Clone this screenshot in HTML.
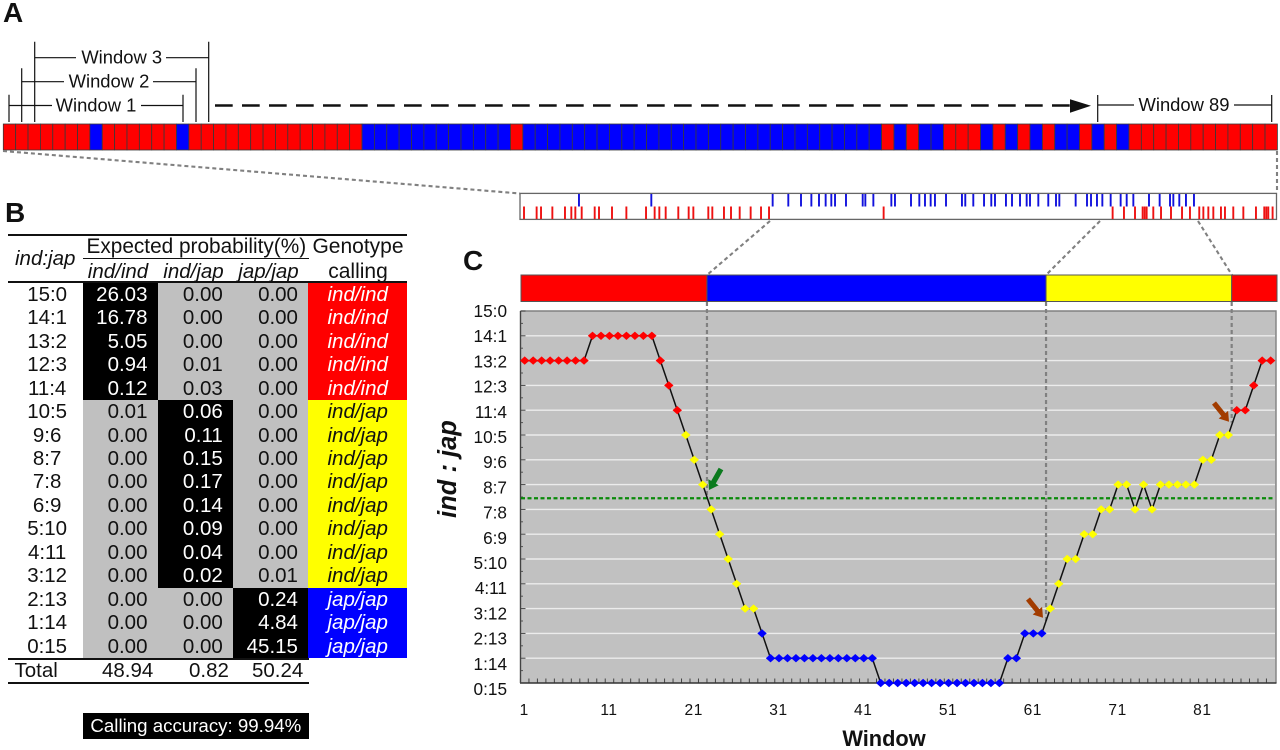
<!DOCTYPE html>
<html lang="en">
<head>
<meta charset="utf-8">
<title>Genotype calling by sliding windows</title>
<style>
html,body{margin:0;padding:0;background:#fff;}
body{width:1280px;height:750px;position:relative;overflow:hidden;font-family:"Liberation Sans",Arial,sans-serif;color:#111;}
svg{position:absolute;left:0;top:0;}
svg text{font-family:"Liberation Sans",Arial,sans-serif;fill:#111;}
.rule{position:absolute;background:#111;height:2px;}
.t{position:absolute;font-size:20.5px;line-height:24px;white-space:nowrap;}
.c{text-align:center;}
.i{font-style:italic;}
#prob-grid{position:absolute;left:8px;top:282.7px;display:grid;grid-template-columns:75.3px 74.7px 75.3px 75.2px 98.5px;grid-auto-rows:23.47px;font-size:20.5px;line-height:23.47px;}
#prob-grid div{white-space:nowrap;}
.r{text-align:center;padding-left:3px;background:#fff;}
.g,.k{text-align:right;padding-right:10.5px;}
.g{background:#c0c0c0;color:#111;}
.k{background:#000;color:#fff;}
.cr,.cy,.cb{text-align:center;font-style:italic;}
.cr{background:#f00;color:#fff;}
.cy{background:#ff0;color:#111;}
.cb{background:#00f;color:#fff;}
</style>
</head>
<body>

<!-- Panel B table -->
<div class="rule" style="left:8px;top:233.5px;width:399px;"></div>
<div class="rule" style="left:83px;top:257.5px;width:226px;height:1.6px;"></div>
<div class="rule" style="left:8px;top:280.8px;width:399px;"></div>
<div class="t" style="left:15px;top:247px;font-style:italic;">ind:jap</div>
<div class="t" style="left:86.5px;top:234.5px;font-size:20.8px;">Expected probability(%)</div>
<div class="t c i" style="left:83px;width:70px;top:260px;">ind/ind</div>
<div class="t c i" style="left:158px;width:71px;top:260px;">ind/jap</div>
<div class="t c i" style="left:233px;width:71px;top:260px;">jap/jap</div>
<div class="t c" style="left:309px;width:98px;top:234.5px;font-size:21px;">Genotype</div>
<div class="t c" style="left:309px;width:98px;top:259.5px;font-size:21px;">calling</div>

<div id="prob-grid">
<div class="r">15:0</div><div class="k">26.03</div><div class="g">0.00</div><div class="g">0.00</div><div class="cr">ind/ind</div>
<div class="r">14:1</div><div class="k">16.78</div><div class="g">0.00</div><div class="g">0.00</div><div class="cr">ind/ind</div>
<div class="r">13:2</div><div class="k">5.05</div><div class="g">0.00</div><div class="g">0.00</div><div class="cr">ind/ind</div>
<div class="r">12:3</div><div class="k">0.94</div><div class="g">0.01</div><div class="g">0.00</div><div class="cr">ind/ind</div>
<div class="r">11:4</div><div class="k">0.12</div><div class="g">0.03</div><div class="g">0.00</div><div class="cr">ind/ind</div>
<div class="r">10:5</div><div class="g">0.01</div><div class="k">0.06</div><div class="g">0.00</div><div class="cy">ind/jap</div>
<div class="r">9:6</div><div class="g">0.00</div><div class="k">0.11</div><div class="g">0.00</div><div class="cy">ind/jap</div>
<div class="r">8:7</div><div class="g">0.00</div><div class="k">0.15</div><div class="g">0.00</div><div class="cy">ind/jap</div>
<div class="r">7:8</div><div class="g">0.00</div><div class="k">0.17</div><div class="g">0.00</div><div class="cy">ind/jap</div>
<div class="r">6:9</div><div class="g">0.00</div><div class="k">0.14</div><div class="g">0.00</div><div class="cy">ind/jap</div>
<div class="r">5:10</div><div class="g">0.00</div><div class="k">0.09</div><div class="g">0.00</div><div class="cy">ind/jap</div>
<div class="r">4:11</div><div class="g">0.00</div><div class="k">0.04</div><div class="g">0.00</div><div class="cy">ind/jap</div>
<div class="r">3:12</div><div class="g">0.00</div><div class="k">0.02</div><div class="g">0.01</div><div class="cy">ind/jap</div>
<div class="r">2:13</div><div class="g">0.00</div><div class="g">0.00</div><div class="k">0.24</div><div class="cb">jap/jap</div>
<div class="r">1:14</div><div class="g">0.00</div><div class="g">0.00</div><div class="k">4.84</div><div class="cb">jap/jap</div>
<div class="r">0:15</div><div class="g">0.00</div><div class="g">0.00</div><div class="k">45.15</div><div class="cb">jap/jap</div>
</div>

<div class="rule" style="left:8px;top:657.5px;width:301px;"></div>
<div class="rule" style="left:8px;top:681.5px;width:301px;"></div>
<div class="t" style="left:14.5px;top:659px;">Total</div>
<div class="t" style="left:102px;top:659px;">48.94</div>
<div class="t" style="left:189px;top:659px;">0.82</div>
<div class="t" style="left:252px;top:659px;">50.24</div>
<div style="position:absolute;left:83px;top:712.7px;width:225.7px;height:26px;background:#000;color:#fff;font-size:18.7px;line-height:26px;text-align:center;">Calling accuracy: 99.94%</div>

<svg id="fig" width="1280" height="750" viewBox="0 0 1280 750">
  <text x="3" y="22" font-size="28" font-weight="bold">A</text>
  <text x="5" y="222" font-size="28" font-weight="bold">B</text>
  <text x="463" y="270" font-size="28" font-weight="bold">C</text>

  <!-- window brackets -->
  <g stroke="#111" stroke-width="1.2" fill="none">
    <path d="M9 94.7V122M183 94.7V122M9 105.5H52M141 105.5H183"/>
    <path d="M21.7 68.3V122M196 68.3V122M21.7 81.7H64M153 81.7H196"/>
    <path d="M34.7 41.7V122M208.7 41.7V122M34.7 57.7H76M166 57.7H208.7"/>
    <path d="M1097.7 95V122M1271.7 95V122M1097.7 105H1134M1234 105H1271.7"/>
  </g>
  <text x="96" y="111.5" font-size="18.4" text-anchor="middle">Window 1</text>
  <text x="109" y="87.5" font-size="18.4" text-anchor="middle">Window 2</text>
  <text x="121.7" y="63.5" font-size="18.4" text-anchor="middle">Window 3</text>
  <text x="1184" y="111" font-size="18.4" text-anchor="middle">Window 89</text>
  <path d="M215 105.5H1070" stroke="#111" stroke-width="2.6" stroke-dasharray="17.7 9.3" fill="none"/>
  <polygon points="1070,99.3 1091,105.8 1070,112.7" fill="#111"/>

  <g id="bar-a"></g>

  <g stroke="#808080" stroke-width="2.1" stroke-dasharray="4 3" fill="none">
    <path d="M3 151L520 193.5"/>
    <path d="M1277 151V193"/>
    <path d="M770 221L707 275"/>
    <path d="M1100 221L1046 275"/>
    <path d="M1198 221L1232 275"/>
  </g>

  <rect x="520" y="193.4" width="756.5" height="26" fill="#fff" stroke="#666" stroke-width="1.3"/>
  <g id="snp-ticks"></g>

  <rect x="520.5" y="311" width="755.5" height="372" fill="#c1c1c1"/>
  <g id="grid"></g>
  <path d="M520.5 311H1276V683" stroke="#808080" stroke-width="1.4" fill="none"/>
  <g id="axes"></g>
  <g id="call-bar"></g>
  <g id="guides"></g>
  <g id="threshold"></g>
  <g id="series"></g>

  <polygon points="723.3,470.3 715.8,483.5 718.7,485.2 709,490 708.3,479.2 711.2,480.9 718.7,467.7" fill="#0b7a1e"/>
  <polygon points="1216,401.4 1225.4,413.1 1228.1,410.9 1229,421.7 1218.7,418.5 1221.4,416.3 1212,404.6" fill="#a23c00"/>
  <polygon points="1030,597.4 1039.4,609.1 1042.1,606.9 1043,617.7 1032.7,614.5 1035.4,612.3 1026,600.6" fill="#a23c00"/>

  <text x="884" y="746" font-size="21.8" font-weight="bold" text-anchor="middle">Window</text>
  <text transform="translate(456,469) rotate(-90)" font-size="25.5" font-weight="bold" font-style="italic" text-anchor="middle">ind : jap</text>
</svg>

<script>
// Panel C: ind count per window (1..89)
const windowRatios = [13,13,13,13,13,13,13,13,14,14,14,14,14,14,14,14,13,12,11,10,9,8,7,6,5,4,3,3,2,1,1,1,1,1,1,1,1,1,1,1,1,1,0,0,0,0,0,0,0,0,0,0,0,0,0,0,0,1,1,2,2,2,3,4,5,5,6,6,7,7,8,8,7,8,7,8,8,8,8,8,9,9,10,10,11,11,12,13,13];
const yTickLabels = ['0:15','1:14','2:13','3:12','4:11','5:10','6:9','7:8','8:7','9:6','10:5','11:4','12:3','13:2','14:1','15:0'];
const xTickLabels = [1,11,21,31,41,51,61,71,81];
const thresholdRatio = 7.45;
// Called segments: genotype codes and the window boundaries between them
const callSegments = ['ind','jap','het','ind'];
const callBoundaries = [22.5,62.5,84.4];
// Panel A: per-SNP genotype (0 = indica, 1 = japonica)
const snpGenotypes = [0,0,0,0,0,0,0,1,0,0,0,0,0,0,1,0,0,0,0,0,0,0,0,0,0,0,0,0,0,1,1,1,1,1,1,1,1,1,1,1,1,0,1,1,1,1,1,1,1,1,1,1,1,1,1,1,1,1,1,1,1,1,1,1,1,1,1,1,1,1,1,0,1,0,1,1,0,0,0,1,0,1,0,1,0,1,1,0,1,0,1,0,0,0,0,0,0,0,0,0,0,0,0];
// SNP positions along the region, per mille of its length
const indSnpPositions = [5.3,22,27.8,42.8,59.5,67.9,73.2,81.6,98.8,104.5,121.7,140.7,166.7,178.1,184.3,192.7,209.4,223.1,229.3,249.1,254.4,269.8,279.1,290.6,305.1,318.8,329.4,481,783.9,798.9,813.5,823.6,826.3,828.9,837.7,847.9,861.1,875.7,886.2,898.5,903.9,910.5,917.1,927.2,932.5,943.5,956.8,973.5,984.5,987.2,989.8,995.5];
const japSnpPositions = [78,173.7,334.2,354.9,371.7,385.4,395.5,404.3,411.8,416.7,431.2,453.3,456.8,467.4,491.2,496,517.2,528.2,535.7,543.2,548.9,563.5,584.6,589,599.6,613.8,623.4,628.3,642.8,650.8,661.4,670.2,674.6,685.6,698.8,709,713.4,735,750,755.3,763.2,770.3,781.3,794.5,802.5,811.3,832,846.1,859.8,864.2,872.1,880.9,891.5];

const NS = 'http://www.w3.org/2000/svg';
function mk(parent, tag, attrs, text) {
  const e = document.createElementNS(NS, tag);
  for (const k in attrs) e.setAttribute(k, attrs[k]);
  if (text !== undefined) e.textContent = text;
  document.getElementById(parent).appendChild(e);
  return e;
}
const xWin = w => 524.7 + (w - 1) * 8.477;
const yRatio = v => 683 - 24.8 * v;
const yLabel = v => 689 - 25.2 * v;
const xSnpCell = i => 3.3 + i * 12.37;
const xSnpPos = p => 520 + p * 0.756;
const genotypeColor = g => ({ind:'#ff0000',jap:'#0000ff',het:'#ffff00'})[g];
const ratioColor = v => v >= 11 ? '#ff0000' : v >= 3 ? '#ffff00' : '#0000ff';

// Panel A bar
snpGenotypes.forEach((g, i) => {
  const cell = mk('bar-a', 'rect', {x: xSnpCell(i), y: 124, width: 12.37, height: 26, fill: g ? '#0000ff' : '#ff0000', stroke: '#3a3a3a', 'stroke-width': 0.8});
  
  
});

// SNP tick tracks
indSnpPositions.forEach(p => {
  const tick = mk('snp-ticks', 'line', {x1: xSnpPos(p), x2: xSnpPos(p), y1: 206.5, y2: 219, stroke: '#ee1111', 'stroke-width': 1.9});
  
  
});
japSnpPositions.forEach(p => {
  const tick = mk('snp-ticks', 'line', {x1: xSnpPos(p), x2: xSnpPos(p), y1: 194, y2: 206.5, stroke: '#1111dd', 'stroke-width': 1.9});
  
  
});

// Gridlines and y axis
yTickLabels.forEach((label, v) => {
  if (v > 0 && v < 15) {
    const g = mk('grid', 'line', {x1: 521, x2: 1275, y1: yRatio(v), y2: yRatio(v), stroke: '#ececec', 'stroke-width': 1.4});
    
    
  }
  const t = mk('axes', 'line', {x1: 520.5, x2: 525.5, y1: yRatio(v), y2: yRatio(v), stroke: '#444', 'stroke-width': 1});
  
  
  if (v < 15) {
    const m = mk('axes', 'line', {x1: 520.5, x2: 523, y1: yRatio(v + 0.5), y2: yRatio(v + 0.5), stroke: '#555', 'stroke-width': 1});
    
    
  }
  const l = mk('axes', 'text', {x: 507, y: yLabel(v) + 6, 'font-size': 17.2, 'text-anchor': 'end'}, label);
  
  
});

// X axis
windowRatios.forEach((_, i) => {
  const t = mk('axes', 'line', {x1: xWin(i + 0.5), x2: xWin(i + 0.5), y1: 683, y2: 678.5, stroke: '#444', 'stroke-width': 1});
  
  
});
const axisX = mk('axes', 'line', {x1: 520, x2: 1276.5, y1: 683, y2: 683, stroke: '#333', 'stroke-width': 1.6});


const axisY = mk('axes', 'line', {x1: 520.5, x2: 520.5, y1: 311, y2: 683, stroke: '#444', 'stroke-width': 1.4});


xTickLabels.forEach(w => {
  const l = mk('axes', 'text', {x: xWin(w) - 0.5, y: 715, 'font-size': 15.5, 'text-anchor': 'middle', 'letter-spacing': 0.6}, w);
  
  
});

// Call bar, from window boundaries
const edges = [null, ...callBoundaries, null];
callSegments.forEach((g, i) => {
  const left = edges[i] === null ? 521 : xWin(edges[i]);
  const right = edges[i + 1] === null ? 1277 : xWin(edges[i + 1]);
  const seg = mk('call-bar', 'rect', {x: left, y: 275, width: right - left, height: 26.5, fill: genotypeColor(g), stroke: '#555', 'stroke-width': 1});
  
  
});

// Threshold
const th = mk('threshold', 'line', {x1: 521, x2: 1275, y1: yRatio(thresholdRatio), y2: yRatio(thresholdRatio), stroke: '#0a8a0a', 'stroke-width': 2.2, 'stroke-dasharray': '4 2.5'});



// Boundary guides drop to the series at each call boundary
callBoundaries.forEach(b => {
  const before = windowRatios[Math.floor(b) - 1], after = windowRatios[Math.ceil(b) - 1];
  const g = mk('guides', 'line', {x1: xWin(b), x2: xWin(b), y1: 302, y2: yRatio((before + after) / 2), stroke: '#808080', 'stroke-width': 2.2, 'stroke-dasharray': '4 3'});
  
  
});

// Series
const linePath = windowRatios.map((v, i) => (i ? 'L' : 'M') + xWin(i + 1).toFixed(2) + ' ' + yRatio(v).toFixed(2)).join('');
const line = mk('series', 'path', {d: linePath, fill: 'none', stroke: '#111', 'stroke-width': 1.5});


windowRatios.forEach((v, i) => {
  const cx = xWin(i + 1), cy = yRatio(v);
  const d = mk('series', 'polygon', {points: [[cx - 4.7, cy], [cx, cy - 4.2], [cx + 4.7, cy], [cx, cy + 4.2]].map(p => p.join(',')).join(' '), fill: ratioColor(v)});
  
  
});
</script>
</body>
</html>
